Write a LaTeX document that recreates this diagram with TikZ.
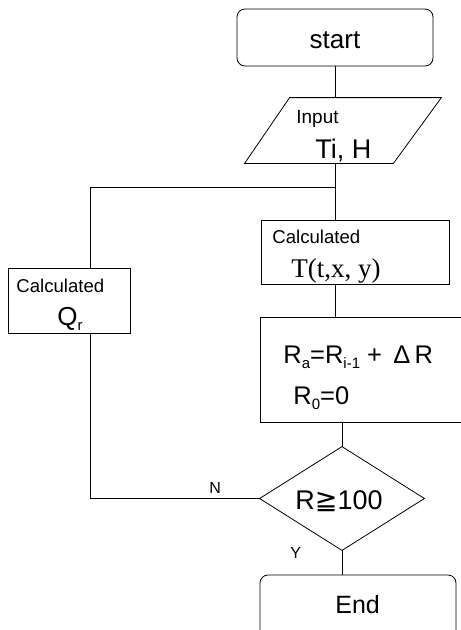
\documentclass[tikz,border=0pt]{standalone}
\usepackage{fontspec}
\setmainfont{Liberation Sans}
\newfontfamily\serifface{Liberation Serif}
\newfontfamily\dejavu{DejaVu Sans}
\newcommand\lowsub[2]{\raisebox{-#1}{\fontsize{15}{15}\selectfont #2}}
\begin{document}
\begin{tikzpicture}[x=1pt,y=-1pt,line width=0.8pt,
  box/.style={draw,rectangle,inner sep=0pt},
  term/.style={draw,rectangle,rounded corners=8pt,inner sep=0pt},
  txt/.style={anchor=base west,inner sep=0pt},
  ctxt/.style={anchor=base,inner sep=0pt},
  conn/.style={draw,line width=0.8pt}]
\useasboundingbox (0,0) rectangle (461,630);
\clip (0,0) rectangle (461,630);
\fill[white] (0,0) rectangle (461,630);

% shapes
\node[term,minimum width=196pt,minimum height=57pt] (start) at (335,37.5) {};
\node[rectangle,minimum width=196pt,minimum height=65pt,inner sep=0pt] (input) at (343,130.5) {};
\draw ([xshift=45pt]input.north west) -- (input.north east)
      -- ([xshift=-48pt]input.south east) -- (input.south west) -- cycle;
\node[box,minimum width=188pt,minimum height=64pt] (tcalc) at (355,252) {};
\node[box,minimum width=122pt,minimum height=65pt] (qcalc) at (69,300.5) {};
\node[box,minimum width=230pt,minimum height=105pt] (ra) at (375,369.5) {};
\node[rectangle,minimum width=164pt,minimum height=103pt,inner sep=0pt] (dia) at (342,498.5) {};
\draw (dia.north) -- (dia.east) -- (dia.south) -- (dia.west) -- cycle;
\node[term,minimum width=196pt,minimum height=80pt] (end) at (358,615) {};

% texts
\node[ctxt,font=\fontsize{26}{26}\selectfont] (tstart) at (335,48) {start};
\node[txt,font=\fontsize{19}{19}\selectfont] (tinput) at (296,123) {Input};
\node[txt,font=\fontsize{27}{27}\selectfont] (tti) at (315,158) {Ti, H};
\node[txt,font=\fontsize{18.6}{18.6}\selectfont] (tcal1) at (272,243) {Calculated};
\node[txt,font=\serifface\fontsize{27}{27}\selectfont] (tT) at (291,277) {T(t,x, y)};
\node[txt,font=\fontsize{18.6}{18.6}\selectfont] (tcal2) at (16,292) {Calculated};
\node[txt,font=\fontsize{26}{26}\selectfont] (tq) at (57,325) {Q\lowsub{5pt}{r}};
\node[txt,font=\fontsize{25.5}{25.5}\selectfont] (tra) at (283,363) {R\lowsub{5pt}{a}=R\lowsub{5pt}{i-1} + \,Δ\,R};
\node[txt,font=\fontsize{25.5}{25.5}\selectfont] (tr0) at (293,404) {R\lowsub{5pt}{0}=0};
\node[txt,font=\fontsize{27}{27}\selectfont] (tdia) at (295,509) {R{\dejavu ≧}100};
\node[txt,font=\fontsize{16}{16}\selectfont] (tN) at (209,493) {N};
\node[txt,font=\fontsize{16}{16}\selectfont] (tY) at (290,558) {Y};
\node[txt,font=\fontsize{25}{25}\selectfont] (tend) at (335,613) {End};

% helper coordinates
\coordinate (qx) at (90,0);
\coordinate (branch) at (335,187);

% connectors
\draw[conn] (start.south) -- (input.north -| start.south);
\draw[conn] (input.south -| start.south) -- (tcalc.north -| start.south);
\draw[conn] (branch) -| (qcalc.north -| qx);
\draw[conn] (tcalc.south -| start.south) -- (ra.north -| start.south);
\draw[conn] (ra.south -| dia.north) -- (dia.north);
\draw[conn] (dia.west) -| (qcalc.south -| qx);
\draw[conn] (dia.south) -- (end.north -| dia.south);
\end{tikzpicture}
\end{document}
